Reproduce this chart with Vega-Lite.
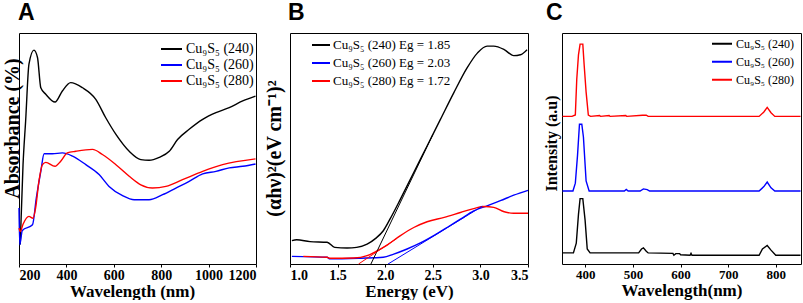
{
  "$schema": "https://vega.github.io/schema/vega-lite/v6.json",
  "padding": {"left": 1, "top": 1, "right": 0, "bottom": 0},
  "background": "white",
  "bounds": "flush",
  "spacing": 34,
  "datasets": {
    "a": [
      {"s": "Cu₉S₅ (240)", "x": 205, "y": 8.4},
      {"s": "Cu₉S₅ (240)", "x": 217, "y": 43.0},
      {"s": "Cu₉S₅ (240)", "x": 228, "y": 61.9},
      {"s": "Cu₉S₅ (240)", "x": 242, "y": 86.5},
      {"s": "Cu₉S₅ (240)", "x": 263, "y": 92.6},
      {"s": "Cu₉S₅ (240)", "x": 278, "y": 89.4},
      {"s": "Cu₉S₅ (240)", "x": 292, "y": 76.3},
      {"s": "Cu₉S₅ (240)", "x": 313, "y": 73.5},
      {"s": "Cu₉S₅ (240)", "x": 352, "y": 70.1},
      {"s": "Cu₉S₅ (240)", "x": 383, "y": 74.9},
      {"s": "Cu₉S₅ (240)", "x": 418, "y": 78.5},
      {"s": "Cu₉S₅ (240)", "x": 468, "y": 76.3},
      {"s": "Cu₉S₅ (240)", "x": 524, "y": 71.3},
      {"s": "Cu₉S₅ (240)", "x": 566, "y": 63.3},
      {"s": "Cu₉S₅ (240)", "x": 609, "y": 56.1},
      {"s": "Cu₉S₅ (240)", "x": 665, "y": 48.8},
      {"s": "Cu₉S₅ (240)", "x": 714, "y": 45.2},
      {"s": "Cu₉S₅ (240)", "x": 749, "y": 44.9},
      {"s": "Cu₉S₅ (240)", "x": 792, "y": 46.2},
      {"s": "Cu₉S₅ (240)", "x": 834, "y": 48.8},
      {"s": "Cu₉S₅ (240)", "x": 869, "y": 53.9},
      {"s": "Cu₉S₅ (240)", "x": 918, "y": 58.3},
      {"s": "Cu₉S₅ (240)", "x": 975, "y": 62.6},
      {"s": "Cu₉S₅ (240)", "x": 1031, "y": 65.5},
      {"s": "Cu₉S₅ (240)", "x": 1087, "y": 67.7},
      {"s": "Cu₉S₅ (240)", "x": 1144, "y": 70.6},
      {"s": "Cu₉S₅ (240)", "x": 1198, "y": 72.7},
      {"s": "Cu₉S₅ (260)", "x": 200, "y": 24.2},
      {"s": "Cu₉S₅ (260)", "x": 203, "y": 8.3},
      {"s": "Cu₉S₅ (260)", "x": 214, "y": 14.5},
      {"s": "Cu₉S₅ (260)", "x": 257, "y": 17.0},
      {"s": "Cu₉S₅ (260)", "x": 273, "y": 28.5},
      {"s": "Cu₉S₅ (260)", "x": 292, "y": 40.1},
      {"s": "Cu₉S₅ (260)", "x": 306, "y": 47.7},
      {"s": "Cu₉S₅ (260)", "x": 341, "y": 47.7},
      {"s": "Cu₉S₅ (260)", "x": 383, "y": 48.1},
      {"s": "Cu₉S₅ (260)", "x": 426, "y": 46.7},
      {"s": "Cu₉S₅ (260)", "x": 482, "y": 43.0},
      {"s": "Cu₉S₅ (260)", "x": 538, "y": 38.7},
      {"s": "Cu₉S₅ (260)", "x": 580, "y": 33.6},
      {"s": "Cu₉S₅ (260)", "x": 637, "y": 29.6},
      {"s": "Cu₉S₅ (260)", "x": 686, "y": 27.8},
      {"s": "Cu₉S₅ (260)", "x": 749, "y": 27.8},
      {"s": "Cu₉S₅ (260)", "x": 806, "y": 30.0},
      {"s": "Cu₉S₅ (260)", "x": 862, "y": 32.9},
      {"s": "Cu₉S₅ (260)", "x": 918, "y": 35.8},
      {"s": "Cu₉S₅ (260)", "x": 975, "y": 39.0},
      {"s": "Cu₉S₅ (260)", "x": 1031, "y": 40.1},
      {"s": "Cu₉S₅ (260)", "x": 1087, "y": 41.6},
      {"s": "Cu₉S₅ (260)", "x": 1144, "y": 42.3},
      {"s": "Cu₉S₅ (260)", "x": 1198, "y": 43.3},
      {"s": "Cu₉S₅ (280)", "x": 200, "y": 15.5},
      {"s": "Cu₉S₅ (280)", "x": 205, "y": 14.0},
      {"s": "Cu₉S₅ (280)", "x": 217, "y": 17.2},
      {"s": "Cu₉S₅ (280)", "x": 242, "y": 20.6},
      {"s": "Cu₉S₅ (280)", "x": 259, "y": 19.8},
      {"s": "Cu₉S₅ (280)", "x": 270, "y": 24.2},
      {"s": "Cu₉S₅ (280)", "x": 284, "y": 35.8},
      {"s": "Cu₉S₅ (280)", "x": 299, "y": 43.0},
      {"s": "Cu₉S₅ (280)", "x": 313, "y": 44.0},
      {"s": "Cu₉S₅ (280)", "x": 352, "y": 42.3},
      {"s": "Cu₉S₅ (280)", "x": 376, "y": 44.5},
      {"s": "Cu₉S₅ (280)", "x": 404, "y": 48.1},
      {"s": "Cu₉S₅ (280)", "x": 440, "y": 48.8},
      {"s": "Cu₉S₅ (280)", "x": 510, "y": 49.6},
      {"s": "Cu₉S₅ (280)", "x": 552, "y": 47.4},
      {"s": "Cu₉S₅ (280)", "x": 609, "y": 43.0},
      {"s": "Cu₉S₅ (280)", "x": 665, "y": 38.0},
      {"s": "Cu₉S₅ (280)", "x": 714, "y": 34.3},
      {"s": "Cu₉S₅ (280)", "x": 763, "y": 32.9},
      {"s": "Cu₉S₅ (280)", "x": 820, "y": 33.6},
      {"s": "Cu₉S₅ (280)", "x": 890, "y": 36.5},
      {"s": "Cu₉S₅ (280)", "x": 975, "y": 40.1},
      {"s": "Cu₉S₅ (280)", "x": 1059, "y": 43.0},
      {"s": "Cu₉S₅ (280)", "x": 1198, "y": 45.5}
    ],
    "b": [
      {"s": "Cu₉S₅ (240) Eg = 1.85", "x": 1.02, "y": 10.1},
      {"s": "Cu₉S₅ (240) Eg = 1.85", "x": 1.07, "y": 10.5},
      {"s": "Cu₉S₅ (240) Eg = 1.85", "x": 1.21, "y": 9.7},
      {"s": "Cu₉S₅ (240) Eg = 1.85", "x": 1.39, "y": 9.4},
      {"s": "Cu₉S₅ (240) Eg = 1.85", "x": 1.47, "y": 7.2},
      {"s": "Cu₉S₅ (240) Eg = 1.85", "x": 1.60, "y": 6.9},
      {"s": "Cu₉S₅ (240) Eg = 1.85", "x": 1.70, "y": 7.2},
      {"s": "Cu₉S₅ (240) Eg = 1.85", "x": 1.81, "y": 8.6},
      {"s": "Cu₉S₅ (240) Eg = 1.85", "x": 1.90, "y": 11.1},
      {"s": "Cu₉S₅ (240) Eg = 1.85", "x": 1.98, "y": 14.4},
      {"s": "Cu₉S₅ (240) Eg = 1.85", "x": 2.05, "y": 19.4},
      {"s": "Cu₉S₅ (240) Eg = 1.85", "x": 2.16, "y": 28.1},
      {"s": "Cu₉S₅ (240) Eg = 1.85", "x": 2.30, "y": 39.6},
      {"s": "Cu₉S₅ (240) Eg = 1.85", "x": 2.44, "y": 51.1},
      {"s": "Cu₉S₅ (240) Eg = 1.85", "x": 2.58, "y": 62.6},
      {"s": "Cu₉S₅ (240) Eg = 1.85", "x": 2.72, "y": 74.1},
      {"s": "Cu₉S₅ (240) Eg = 1.85", "x": 2.86, "y": 84.9},
      {"s": "Cu₉S₅ (240) Eg = 1.85", "x": 2.97, "y": 91.4},
      {"s": "Cu₉S₅ (240) Eg = 1.85", "x": 3.07, "y": 94.3},
      {"s": "Cu₉S₅ (240) Eg = 1.85", "x": 3.14, "y": 94.3},
      {"s": "Cu₉S₅ (240) Eg = 1.85", "x": 3.25, "y": 92.8},
      {"s": "Cu₉S₅ (240) Eg = 1.85", "x": 3.35, "y": 90.2},
      {"s": "Cu₉S₅ (240) Eg = 1.85", "x": 3.42, "y": 90.6},
      {"s": "Cu₉S₅ (240) Eg = 1.85", "x": 3.49, "y": 92.8},
      {"s": "Cu₉S₅ (260) Eg = 2.03", "x": 1.02, "y": 3.3},
      {"s": "Cu₉S₅ (260) Eg = 2.03", "x": 1.39, "y": 2.9},
      {"s": "Cu₉S₅ (260) Eg = 2.03", "x": 1.42, "y": 2.2},
      {"s": "Cu₉S₅ (260) Eg = 2.03", "x": 1.74, "y": 2.5},
      {"s": "Cu₉S₅ (260) Eg = 2.03", "x": 1.98, "y": 2.9},
      {"s": "Cu₉S₅ (260) Eg = 2.03", "x": 2.09, "y": 4.3},
      {"s": "Cu₉S₅ (260) Eg = 2.03", "x": 2.23, "y": 6.5},
      {"s": "Cu₉S₅ (260) Eg = 2.03", "x": 2.37, "y": 9.1},
      {"s": "Cu₉S₅ (260) Eg = 2.03", "x": 2.51, "y": 12.3},
      {"s": "Cu₉S₅ (260) Eg = 2.03", "x": 2.65, "y": 15.8},
      {"s": "Cu₉S₅ (260) Eg = 2.03", "x": 2.79, "y": 19.4},
      {"s": "Cu₉S₅ (260) Eg = 2.03", "x": 2.93, "y": 23.0},
      {"s": "Cu₉S₅ (260) Eg = 2.03", "x": 3.07, "y": 25.2},
      {"s": "Cu₉S₅ (260) Eg = 2.03", "x": 3.21, "y": 27.4},
      {"s": "Cu₉S₅ (260) Eg = 2.03", "x": 3.35, "y": 29.8},
      {"s": "Cu₉S₅ (260) Eg = 2.03", "x": 3.50, "y": 31.9},
      {"s": "Cu₉S₅ (280) Eg = 1.72", "x": 1.14, "y": 3.3},
      {"s": "Cu₉S₅ (280) Eg = 1.72", "x": 1.39, "y": 2.9},
      {"s": "Cu₉S₅ (280) Eg = 1.72", "x": 1.42, "y": 2.5},
      {"s": "Cu₉S₅ (280) Eg = 1.72", "x": 1.67, "y": 2.6},
      {"s": "Cu₉S₅ (280) Eg = 1.72", "x": 1.81, "y": 3.6},
      {"s": "Cu₉S₅ (280) Eg = 1.72", "x": 1.90, "y": 5.4},
      {"s": "Cu₉S₅ (280) Eg = 1.72", "x": 2.02, "y": 8.2},
      {"s": "Cu₉S₅ (280) Eg = 1.72", "x": 2.16, "y": 12.3},
      {"s": "Cu₉S₅ (280) Eg = 1.72", "x": 2.30, "y": 15.8},
      {"s": "Cu₉S₅ (280) Eg = 1.72", "x": 2.44, "y": 18.3},
      {"s": "Cu₉S₅ (280) Eg = 1.72", "x": 2.62, "y": 20.2},
      {"s": "Cu₉S₅ (280) Eg = 1.72", "x": 2.79, "y": 22.3},
      {"s": "Cu₉S₅ (280) Eg = 1.72", "x": 2.93, "y": 24.0},
      {"s": "Cu₉S₅ (280) Eg = 1.72", "x": 3.04, "y": 24.9},
      {"s": "Cu₉S₅ (280) Eg = 1.72", "x": 3.14, "y": 24.5},
      {"s": "Cu₉S₅ (280) Eg = 1.72", "x": 3.25, "y": 22.6},
      {"s": "Cu₉S₅ (280) Eg = 1.72", "x": 3.35, "y": 22.0},
      {"s": "Cu₉S₅ (280) Eg = 1.72", "x": 3.50, "y": 22.0}
    ],
    "bt": [
      {"s": "Cu₉S₅ (240) Eg = 1.85", "x": 1.85, "y": 0},
      {"s": "Cu₉S₅ (240) Eg = 1.85", "x": 2.50, "y": 56},
      {"s": "Cu₉S₅ (260) Eg = 2.03", "x": 2.03, "y": 0},
      {"s": "Cu₉S₅ (260) Eg = 2.03", "x": 3.02, "y": 25},
      {"s": "Cu₉S₅ (280) Eg = 1.72", "x": 1.72, "y": 0},
      {"s": "Cu₉S₅ (280) Eg = 1.72", "x": 2.12, "y": 11}
    ],
    "c": [
      {"s": "Cu₉S₅ (240)", "x": 352, "y": 4.8},
      {"s": "Cu₉S₅ (240)", "x": 375, "y": 4.8},
      {"s": "Cu₉S₅ (240)", "x": 381, "y": 9},
      {"s": "Cu₉S₅ (240)", "x": 385.6, "y": 21.5},
      {"s": "Cu₉S₅ (240)", "x": 389, "y": 28.3},
      {"s": "Cu₉S₅ (240)", "x": 394.7, "y": 28.3},
      {"s": "Cu₉S₅ (240)", "x": 399.5, "y": 19},
      {"s": "Cu₉S₅ (240)", "x": 404, "y": 6.5},
      {"s": "Cu₉S₅ (240)", "x": 410, "y": 4.8},
      {"s": "Cu₉S₅ (240)", "x": 512, "y": 4.8},
      {"s": "Cu₉S₅ (240)", "x": 518, "y": 6.5},
      {"s": "Cu₉S₅ (240)", "x": 522, "y": 7.0},
      {"s": "Cu₉S₅ (240)", "x": 528, "y": 5.5},
      {"s": "Cu₉S₅ (240)", "x": 532, "y": 4.8},
      {"s": "Cu₉S₅ (240)", "x": 584, "y": 4.6},
      {"s": "Cu₉S₅ (240)", "x": 586, "y": 3.8},
      {"s": "Cu₉S₅ (240)", "x": 590, "y": 4.5},
      {"s": "Cu₉S₅ (240)", "x": 598, "y": 4.5},
      {"s": "Cu₉S₅ (240)", "x": 600, "y": 4.0},
      {"s": "Cu₉S₅ (240)", "x": 620, "y": 3.8},
      {"s": "Cu₉S₅ (240)", "x": 622, "y": 4.6},
      {"s": "Cu₉S₅ (240)", "x": 624, "y": 3.8},
      {"s": "Cu₉S₅ (240)", "x": 765, "y": 3.8},
      {"s": "Cu₉S₅ (240)", "x": 772, "y": 6.5},
      {"s": "Cu₉S₅ (240)", "x": 782, "y": 8.0},
      {"s": "Cu₉S₅ (240)", "x": 790, "y": 6.0},
      {"s": "Cu₉S₅ (240)", "x": 800, "y": 3.8},
      {"s": "Cu₉S₅ (240)", "x": 852, "y": 3.8},
      {"s": "Cu₉S₅ (260)", "x": 352, "y": 31.6},
      {"s": "Cu₉S₅ (260)", "x": 374, "y": 31.6},
      {"s": "Cu₉S₅ (260)", "x": 379, "y": 35},
      {"s": "Cu₉S₅ (260)", "x": 383.6, "y": 47},
      {"s": "Cu₉S₅ (260)", "x": 387.7, "y": 60.5},
      {"s": "Cu₉S₅ (260)", "x": 392.6, "y": 60.5},
      {"s": "Cu₉S₅ (260)", "x": 396, "y": 55},
      {"s": "Cu₉S₅ (260)", "x": 401.6, "y": 36},
      {"s": "Cu₉S₅ (260)", "x": 408, "y": 31.6},
      {"s": "Cu₉S₅ (260)", "x": 482, "y": 31.6},
      {"s": "Cu₉S₅ (260)", "x": 486, "y": 32.3},
      {"s": "Cu₉S₅ (260)", "x": 490, "y": 31.6},
      {"s": "Cu₉S₅ (260)", "x": 515, "y": 31.6},
      {"s": "Cu₉S₅ (260)", "x": 522, "y": 32.5},
      {"s": "Cu₉S₅ (260)", "x": 530, "y": 32.2},
      {"s": "Cu₉S₅ (260)", "x": 535, "y": 31.6},
      {"s": "Cu₉S₅ (260)", "x": 765, "y": 31.6},
      {"s": "Cu₉S₅ (260)", "x": 775, "y": 33.5},
      {"s": "Cu₉S₅ (260)", "x": 782, "y": 35.5},
      {"s": "Cu₉S₅ (260)", "x": 790, "y": 33.0},
      {"s": "Cu₉S₅ (260)", "x": 798, "y": 31.6},
      {"s": "Cu₉S₅ (260)", "x": 852, "y": 31.6},
      {"s": "Cu₉S₅ (280)", "x": 352, "y": 63.9},
      {"s": "Cu₉S₅ (280)", "x": 372, "y": 63.9},
      {"s": "Cu₉S₅ (280)", "x": 379, "y": 64.5},
      {"s": "Cu₉S₅ (280)", "x": 382, "y": 80},
      {"s": "Cu₉S₅ (280)", "x": 385.6, "y": 90.5},
      {"s": "Cu₉S₅ (280)", "x": 389, "y": 95.2},
      {"s": "Cu₉S₅ (280)", "x": 394.7, "y": 95.2},
      {"s": "Cu₉S₅ (280)", "x": 397.4, "y": 86.6},
      {"s": "Cu₉S₅ (280)", "x": 401.6, "y": 74.5},
      {"s": "Cu₉S₅ (280)", "x": 406.3, "y": 64.5},
      {"s": "Cu₉S₅ (280)", "x": 411, "y": 63.9},
      {"s": "Cu₉S₅ (280)", "x": 430, "y": 64.3},
      {"s": "Cu₉S₅ (280)", "x": 432, "y": 63.9},
      {"s": "Cu₉S₅ (280)", "x": 450, "y": 64.3},
      {"s": "Cu₉S₅ (280)", "x": 452, "y": 63.9},
      {"s": "Cu₉S₅ (280)", "x": 485, "y": 64.3},
      {"s": "Cu₉S₅ (280)", "x": 487, "y": 63.9},
      {"s": "Cu₉S₅ (280)", "x": 520, "y": 64.4},
      {"s": "Cu₉S₅ (280)", "x": 528, "y": 64.4},
      {"s": "Cu₉S₅ (280)", "x": 532, "y": 63.9},
      {"s": "Cu₉S₅ (280)", "x": 765, "y": 63.9},
      {"s": "Cu₉S₅ (280)", "x": 775, "y": 65.8},
      {"s": "Cu₉S₅ (280)", "x": 782, "y": 67.8},
      {"s": "Cu₉S₅ (280)", "x": 790, "y": 65.5},
      {"s": "Cu₉S₅ (280)", "x": 798, "y": 63.9},
      {"s": "Cu₉S₅ (280)", "x": 852, "y": 63.9}
    ]
  },
  "hconcat": [
    {
      "width": 237,
      "height": 231,
      "title": {"text": "A", "dx": -1},
      "data": {"name": "a"},
      "mark": {"type": "line", "strokeWidth": 1.4, "interpolate": "monotone"},
      "encoding": {
        "x": {"field": "x", "type": "quantitative", "scale": {"domain": [200, 1200], "nice": false},
              "axis": {"values": [200, 400, 600, 800, 1000, 1200], "format": "d", "title": "Wavelength (nm)", "titleX": 113, "titleFontSize": 17}},
        "y": {"field": "y", "type": "quantitative", "scale": {"domain": [0, 100], "nice": false},
              "axis": {"labels": false, "ticks": false, "title": "Absorbance (%)", "titleX": 3, "titleY": 95, "titleFontSize": 20, "titleAngle": -90, "titleBaseline": "bottom", "titleAlign": "center"}},
        "color": {"field": "s", "type": "nominal", "sort": null,
                  "scale": {"domain": ["Cu₉S₅ (240)", "Cu₉S₅ (260)", "Cu₉S₅ (280)"], "range": ["#000000", "#0000ff", "#ff0000"]},
                  "legend": {"orient": "none", "legendX": 141, "legendY": 8, "symbolSize": 441, "clipHeight": 16, "rowPadding": 0, "labelFontSize": 14, "labelOffset": 3, "labelFont": "Liberation Serif"}}
      }
    },
    {
      "width": 238,
      "height": 231,
      "title": {"text": "B", "dx": -2},
      "layer": [
        {
          "data": {"name": "b"},
          "mark": {"type": "line", "strokeWidth": 1.4, "interpolate": "monotone"},
          "encoding": {
            "x": {"field": "x", "type": "quantitative", "scale": {"domain": [1.0, 3.5], "nice": false},
                  "axis": {"values": [1.0, 1.5, 2.0, 2.5, 3.0, 3.5], "format": ".1f", "title": "Energy (eV)", "titleFontSize": 17}},
            "y": {"field": "y", "type": "quantitative", "scale": {"domain": [0, 100], "nice": false},
                  "axis": {"labels": false, "ticks": false, "title": "(αhν)²(eV cm⁻¹)²", "titleX": -6, "titleY": 115, "titleFontSize": 20, "titleAngle": -90, "titleBaseline": "bottom", "titleAlign": "center"}},
            "color": {"field": "s", "type": "nominal", "sort": null,
                      "scale": {"domain": ["Cu₉S₅ (240) Eg = 1.85", "Cu₉S₅ (260) Eg = 2.03", "Cu₉S₅ (280) Eg = 1.72"], "range": ["#000000", "#0000ff", "#ff0000"]},
                      "legend": {"orient": "none", "legendX": 21, "legendY": 3, "symbolSize": 324, "clipHeight": 18, "rowPadding": 0, "labelFontSize": 13, "labelOffset": 2, "labelFont": "Liberation Serif"}}
          }
        },
        {
          "data": {"name": "bt"},
          "mark": {"type": "line", "strokeWidth": 1},
          "encoding": {
            "x": {"field": "x", "type": "quantitative"},
            "y": {"field": "y", "type": "quantitative"},
            "color": {"field": "s", "type": "nominal", "sort": null}
          }
        }
      ]
    },
    {
      "width": 239,
      "height": 231,
      "title": {"text": "C", "dx": -16},
      "data": {"name": "c"},
      "mark": {"type": "line", "strokeWidth": 1.4},
      "encoding": {
        "x": {"field": "x", "type": "quantitative", "scale": {"domain": [351, 853], "nice": false},
              "axis": {"values": [400, 500, 600, 700, 800], "format": "d", "title": "Wavelength(nm)", "titleFontSize": 17, "labelFontSize": 13}},
        "y": {"field": "y", "type": "quantitative", "scale": {"domain": [0, 100], "nice": false},
              "axis": {"labels": false, "ticks": false, "title": "Intensity (a.u)", "titleX": -2.5, "titleY": 110, "titleFontSize": 16, "titleAngle": -90, "titleBaseline": "bottom", "titleAlign": "center"}},
        "color": {"field": "s", "type": "nominal", "sort": null,
                  "scale": {"domain": ["Cu₉S₅ (240)", "Cu₉S₅ (260)", "Cu₉S₅ (280)"], "range": ["#000000", "#0000ff", "#ff0000"]},
                  "legend": {"orient": "none", "legendX": 149, "legendY": 2, "symbolSize": 400, "clipHeight": 17.5, "rowPadding": 0, "labelFontSize": 12, "labelOffset": 3, "labelFont": "Liberation Serif"}}
      }
    }
  ],
  "resolve": {"scale": {"color": "independent", "x": "independent", "y": "independent"}, "legend": {"color": "independent"}},
  "config": {
    "view": {"stroke": "#000000", "strokeWidth": 1},
    "axis": {
      "grid": false, "domain": false, "ticks": true, "tickSize": 3, "tickColor": "#000000",
      "labelFont": "Liberation Serif", "labelFontWeight": "bold", "labelFontSize": 14, "labelColor": "#000000", "labelPadding": 1,
      "titleFont": "Liberation Serif", "titleFontWeight": "bold", "titleColor": "#000000", "titlePadding": 1
    },
    "legend": {
      "title": null, "padding": 0, "symbolType": "stroke", "symbolStrokeWidth": 2,
      "labelFont": "Liberation Serif", "labelColor": "#000000"
    },
    "title": {"font": "Liberation Sans", "fontSize": 23, "fontWeight": "bold", "anchor": "start", "frame": "group", "baseline": "alphabetic", "offset": 8, "color": "#000000"}
  }
}
